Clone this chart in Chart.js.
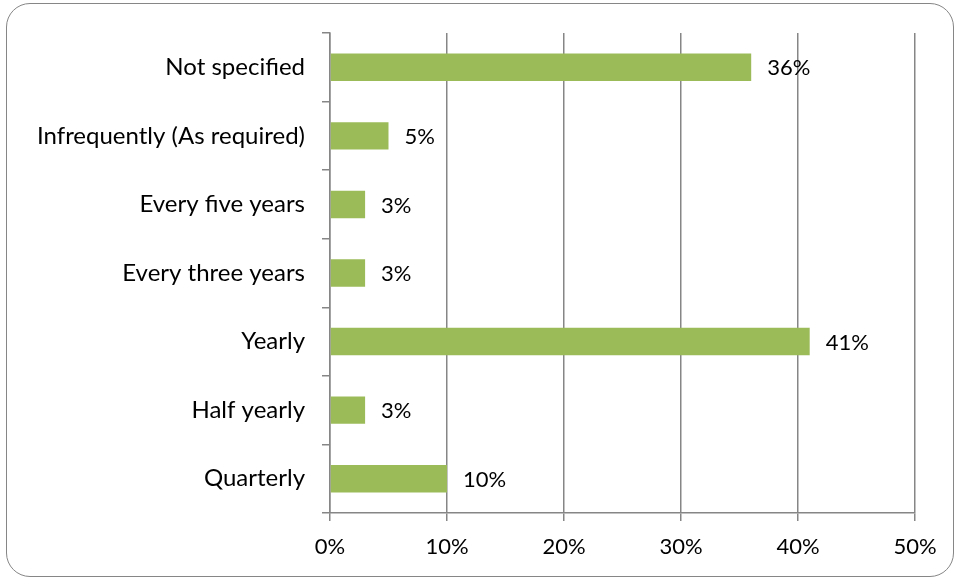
<!DOCTYPE html>
<html>
<head>
<meta charset="utf-8">
<title>Review frequency</title>
<script src="https://cdn.jsdelivr.net/npm/chart.js@4/dist/chart.umd.min.js"></script>
<style>
    html, body { margin: 0; padding: 0; background: #fff; overflow: hidden; }
    #frame {
        position: absolute;
        left: 6px; top: 3px;
        width: 948px; height: 574px;
        border: 1.5px solid #868686;
        border-radius: 24px;
        box-sizing: border-box;
    }
    #wrap { position: absolute; left: 0; top: 0; width: 956px; height: 577px; }
</style>
</head>
<body>
<div id="frame"></div>
<div id="wrap"><canvas id="freqChart" width="956" height="577"></canvas></div>
<script>
const categories = [
    'Not specified',
    'Infrequently (As required)',
    'Every five years',
    'Every three years',
    'Yearly',
    'Half yearly',
    'Quarterly'
];
const shares = [36, 5, 3, 3, 41, 3, 10];
const axisTicks = [0, 10, 20, 30, 40, 50];

const BAR_GREEN = '#9bbb59';
const GRID_GREY = '#868686';
const FAMILY = 'Lato, "Open Sans", sans-serif';
const LABEL_FONT = { family: FAMILY, size: 24 };
const NUM_FONT = { family: FAMILY, size: 22 };

// writes "xx%" just past the end of each bar
const barValueLabels = {
    id: 'barValueLabels',
    afterDatasetsDraw(chart) {
        const ctx = chart.ctx;
        const meta = chart.getDatasetMeta(0);
        ctx.save();
        ctx.font = `${NUM_FONT.size}px ${NUM_FONT.family}`;
        ctx.fillStyle = '#000';
        ctx.textAlign = 'left';
        ctx.textBaseline = 'middle';
        meta.data.forEach((bar, i) => {
            ctx.fillText(shares[i] + '%', bar.x + 16, bar.y + 1);
        });
        ctx.restore();
    }
};

const ctx = document.getElementById('freqChart').getContext('2d');
new Chart(ctx, {
    type: 'bar',
    data: {
        labels: categories,
        datasets: [{
            data: shares,
            backgroundColor: BAR_GREEN,
            borderWidth: 0,
            categoryPercentage: 1,
            barPercentage: 0.4
        }]
    },
    options: {
        indexAxis: 'y',
        responsive: false,
        animation: false,
        layout: { padding: { top: 33, right: 41, left: 0, bottom: 0 } },
        plugins: {
            legend: { display: false },
            tooltip: { enabled: false }
        },
        scales: {
            x: {
                min: axisTicks[0],
                max: axisTicks[axisTicks.length - 1],
                afterFit: scale => { scale.height = 64; },
                afterBuildTicks: scale => { scale.ticks = axisTicks.map(v => ({ value: v })); },
                grid: { color: GRID_GREY, lineWidth: 1.5, tickLength: 8 },
                border: { color: GRID_GREY, width: 1.5 },
                ticks: {
                    color: '#000',
                    font: NUM_FONT,
                    padding: 13,
                    callback: v => v + '%'
                }
            },
            y: {
                afterFit: scale => { scale.width = 330; },
                grid: { color: GRID_GREY, lineWidth: 1.5, tickLength: 8, drawOnChartArea: false, offset: true },
                border: { color: GRID_GREY, width: 1.5 },
                ticks: { color: '#000', font: LABEL_FONT, padding: 17 }
            }
        }
    },
    plugins: [barValueLabels]
});
</script>
</body>
</html>
